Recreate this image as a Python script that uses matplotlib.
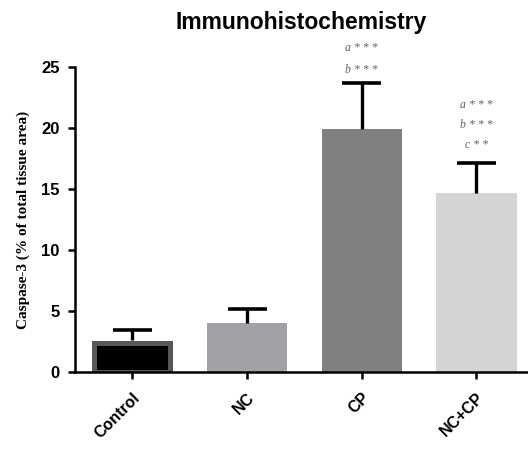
import numpy as np
import matplotlib
matplotlib.use('Agg')
import matplotlib.pyplot as plt

groups = ['Control', 'NC', 'CP', 'NC+CP']
means = [2.6, 4.0, 19.9, 14.7]
errors = [0.85, 1.15, 3.8, 2.45]
fills = ['#000000', '#a2a2a6', '#808080', '#d4d4d4']
edges = ['#585858', '#a2a2a6', '#808080', '#d4d4d4']
marks = {2: ['a***', 'b***'], 3: ['a***', 'b***', 'c**']}
mark_y = {2: [26.55, 24.75], 3: [21.9, 20.25, 18.6]}

fig = plt.figure(figsize=(5.28, 4.55), dpi=100)
ax = fig.add_axes([0.142, 0.182, 0.858, 0.671])

x = np.arange(len(groups))
for i in range(len(groups)):
    if i == 0:
        ax.bar(x[i], means[i] - 0.18, width=0.66, color=fills[i],
               edgecolor=edges[i], linewidth=3.6, zorder=2)
    else:
        ax.bar(x[i], means[i], width=0.70, color=fills[i], linewidth=0, zorder=2)

tops = np.array(means) + np.array(errors)
ax.vlines(x, means, tops, color='k', lw=2.4, zorder=3)
ax.hlines(tops, x - 0.17, x + 0.17, color='k', lw=2.6, zorder=3)

for i in marks:
    for s, yy in zip(marks[i], mark_y[i]):
        ax.text(x[i], yy, s[0] + ' ' + ' '.join(s[1:]), ha='center', va='center',
                fontsize=8.5, style='italic', family='Liberation Serif',
                color='#606060', clip_on=False)

ax.set_xlim(-0.5, 3.45)
ax.set_ylim(0, 25)
ax.set_yticks([0, 5, 10, 15, 20, 25])
ax.set_xticks(x)
ax.set_xticklabels(groups, rotation=45, ha='right', rotation_mode='anchor',
                   fontsize=11.5, fontweight='bold', family='Liberation Sans')
for lab in ax.get_yticklabels():
    lab.set_fontsize(12)
    lab.set_fontweight('bold')
    lab.set_family('Liberation Sans')

for s in ['top', 'right']:
    ax.spines[s].set_visible(False)
for s in ['left', 'bottom']:
    ax.spines[s].set_linewidth(1.8)
ax.tick_params(axis='both', width=1.8, length=5, direction='out')
ax.tick_params(axis='x', pad=8)
ax.tick_params(axis='y', pad=6)

ax.set_ylabel('Caspase-3 (% of total tissue area)', fontsize=11,
              fontweight='bold', family='Liberation Serif', labelpad=8)
ax.set_title('Immunohistochemistry', fontsize=16.5, fontweight='bold',
             family='Liberation Sans', pad=27)

fig.savefig('out.png', dpi=100)
